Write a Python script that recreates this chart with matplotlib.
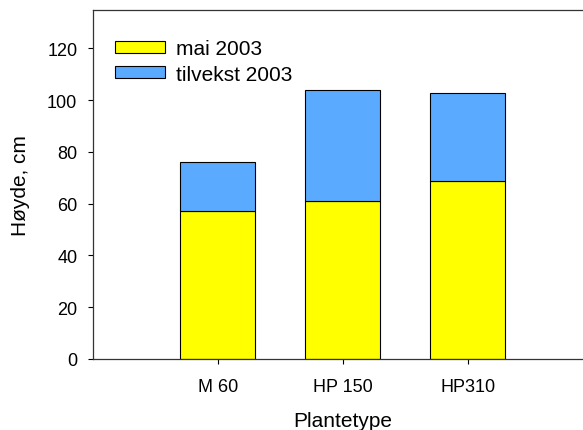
import matplotlib
matplotlib.use("Agg")
import matplotlib.pyplot as plt

categories = ["M 60", "HP 150", "HP310"]
mai_2003 = [57.0, 61.0, 68.6]
tilvekst_2003 = [19.0, 43.1, 34.2]
yticks = [0, 20, 40, 60, 80, 100, 120]

plt.rcParams['font.family'] = ['Liberation Sans', 'DejaVu Sans']

fig = plt.figure(figsize=(5.83, 4.31), dpi=100)
ax = fig.add_axes([0.159, 0.1654, 0.8576, 0.8098])

x = [1, 2, 3]
ax.bar(x, mai_2003, width=0.6, color="#FFFF00", edgecolor="black", linewidth=0.8,
       label="mai 2003")
ax.bar(x, tilvekst_2003, width=0.6, bottom=mai_2003, color="#5AABFF",
       edgecolor="black", linewidth=0.8, label="tilvekst 2003")

ax.set_xlim(0, 4)
ax.set_ylim(0, 135)
ax.set_xticks(x)
ax.set_xticklabels(categories)
ax.set_yticks(yticks)
ax.tick_params(direction="out", length=3.6, width=0.8, labelsize=13)
ax.tick_params(axis="x", pad=10)
ax.tick_params(axis="y", pad=7.5)
for s in ["left", "bottom", "top"]:
    ax.spines[s].set_linewidth(0.9)
    ax.spines[s].set_color("#333333")
ax.spines["right"].set_visible(False)

ax.set_ylabel("Høyde, cm", fontsize=15, labelpad=12)
ax.set_xlabel("Plantetype", fontsize=15, labelpad=12)

ax.legend(loc="upper left", bbox_to_anchor=(0.044, 0.915), frameon=False,
          fontsize=15, handlelength=2.4, handleheight=0.5, handletextpad=0.55,
          labelspacing=0.3, borderpad=0, borderaxespad=0)

fig.savefig("out.png", dpi=100)
